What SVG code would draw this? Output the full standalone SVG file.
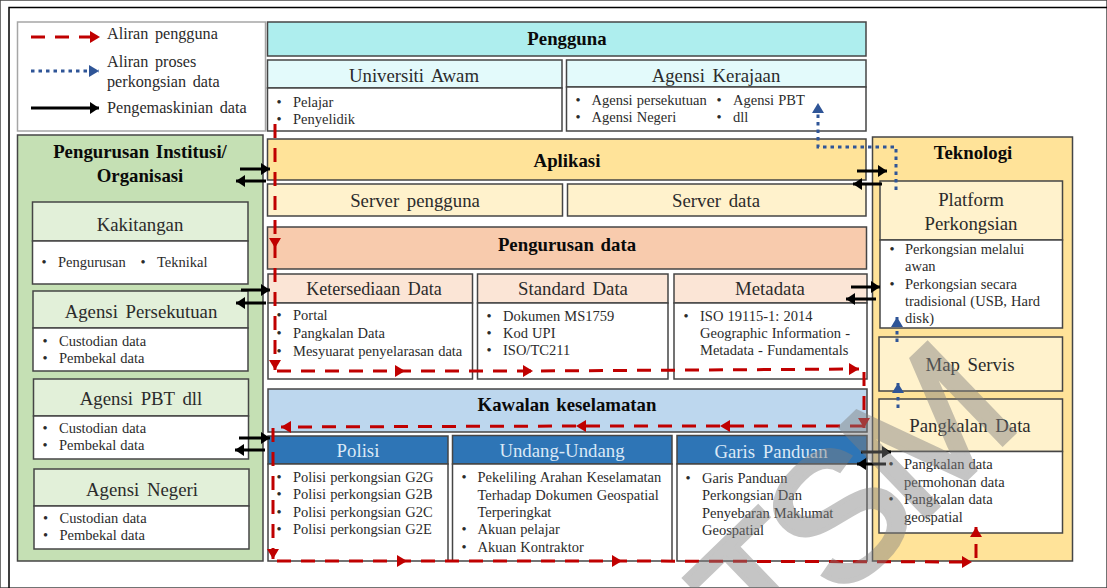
<svg xmlns="http://www.w3.org/2000/svg" width="1107" height="588" viewBox="0 0 1107 588">
<style>
text{font-family:"Liberation Serif","Times New Roman",serif;fill:#2b2b2b}
.b{font-size:14.5px;word-spacing:.5px}
.h{font-size:18.8px;text-anchor:middle;word-spacing:3px}
.w{fill:#dbe9f6}
.t{font-size:18.8px;font-weight:bold;text-anchor:middle;fill:#0a0a0a;word-spacing:2px}
.l{font-size:16.2px;word-spacing:2.500px}
rect{stroke:#454545;stroke-width:1.5}
.body{fill:#fff}
.cy{fill:#aeeeee}.cyl{fill:#e3fafb}.yl{fill:#ffe399}.yll{fill:#fff2cc}.or{fill:#f8cbad}.orl{fill:#fbe5d6}.bl{fill:#bdd7ee}.db{fill:#2e75b6}.gr{fill:#c5e0b4}.grl{fill:#e2f0d9}
.red{fill:none;stroke:#c00000;stroke-width:3;stroke-dasharray:14 10}
.rm{marker-mid:url(#rh);marker-end:url(#rh)}
.blue{fill:none;stroke:#2f5597;stroke-width:3;stroke-dasharray:3.500 4;marker-end:url(#bh)}
.blk{fill:none;stroke:#000;stroke-width:3;marker-end:url(#kh)}
</style>
<defs>
<marker id="rh" markerUnits="userSpaceOnUse" markerWidth="11" markerHeight="12" refX="10" refY="6" orient="auto"><path d="M0 0L10 6L0 12Z" fill="#c00000"/></marker>
<marker id="bh" markerUnits="userSpaceOnUse" markerWidth="11" markerHeight="12" refX="10" refY="6" orient="auto"><path d="M0 0L10 6L0 12Z" fill="#2f5597"/></marker>
<marker id="kh" markerUnits="userSpaceOnUse" markerWidth="10" markerHeight="12" refX="9" refY="6" orient="auto"><path d="M0 0L9 6L0 12Z" fill="#000"/></marker>
</defs>
<rect width="1107" height="588" fill="#fff" stroke="none"/>
<path d="M9 588V7.500H1107" fill="none" stroke="#000" stroke-width="1.500"/>

<g id="legend">
<rect x="17.500" y="22" width="248" height="109" fill="#fff" style="stroke:#a6a6a6"/>
<text class="l" x="107" y="39">Aliran pengguna</text>
<text class="l" x="107" y="67">Aliran proses</text>
<text class="l" x="107" y="87">perkongsian data</text>
<text class="l" x="107" y="113">Pengemaskinian data</text>
</g>

<g id="pengguna"><rect class="cy" x="267.500" y="22" width="598.500" height="34"/><text class="t" x="567" y="45">Pengguna</text></g>
<g id="universiti-awam"><rect class="cyl" x="267.500" y="60" width="294.500" height="28"/><rect class="body" x="267.500" y="88" width="294.500" height="43"/>
<text class="h" x="414" y="82">Universiti Awam</text>
<text class="b" x="276.500" y="107">•</text><text class="b" x="293" y="107">Pelajar</text>
<text class="b" x="276.500" y="124">•</text><text class="b" x="293" y="124">Penyelidik</text></g>
<g id="agensi-kerajaan"><rect class="cyl" x="566.500" y="60" width="299.500" height="27"/><rect class="body" x="566.500" y="87" width="299.500" height="44"/>
<text class="h" x="716" y="82">Agensi Kerajaan</text>
<text class="b" x="575.500" y="105">•</text><text class="b" x="591.500" y="105">Agensi persekutuan</text>
<text class="b" x="575.500" y="122">•</text><text class="b" x="591.500" y="122">Agensi Negeri</text>
<text class="b" x="716.500" y="105">•</text><text class="b" x="733" y="105">Agensi PBT</text>
<text class="b" x="716.500" y="122">•</text><text class="b" x="733" y="122">dll</text></g>

<g id="aplikasi"><rect class="yl" x="267.500" y="139" width="598.500" height="41"/><text class="t" x="567" y="167">Aplikasi</text></g>
<g id="server-pengguna"><rect class="yll" x="267.500" y="184" width="295" height="32"/><text class="h" x="415" y="207">Server pengguna</text></g>
<g id="server-data"><rect class="yll" x="567.500" y="184" width="298.500" height="32"/><text class="h" x="716" y="207">Server data</text></g>

<g id="pengurusan-data"><rect class="or" x="267.500" y="227" width="599" height="42"/><text class="t" x="567" y="251">Pengurusan data</text></g>
<g id="ketersediaan-data"><rect class="orl" x="268" y="274" width="204.500" height="29"/><rect class="body" x="268" y="303" width="204.500" height="76"/>
<text class="h" x="374" y="295" style="font-size:18px">Ketersediaan Data</text>
<text class="b" x="276.500" y="320">•</text><text class="b" x="293" y="320">Portal</text>
<text class="b" x="276.500" y="338">•</text><text class="b" x="293" y="338">Pangkalan Data</text>
<text class="b" x="276.500" y="356">•</text><text class="b" x="293" y="356">Mesyuarat penyelarasan data</text></g>
<g id="standard-data"><rect class="orl" x="477.500" y="274" width="190.500" height="29"/><rect class="body" x="477.500" y="303" width="190.500" height="76"/>
<text class="h" x="573" y="295">Standard Data</text>
<text class="b" x="486.500" y="321">•</text><text class="b" x="503" y="321">Dokumen MS1759</text>
<text class="b" x="486.500" y="338">•</text><text class="b" x="503" y="338">Kod UPI</text>
<text class="b" x="486.500" y="355">•</text><text class="b" x="503" y="355">ISO/TC211</text></g>
<g id="metadata"><rect class="orl" x="674" y="274" width="193" height="29"/><rect class="body" x="674" y="303" width="193" height="76"/>
<text class="h" x="770" y="295">Metadata</text>
<text class="b" x="683.500" y="321">•</text><text class="b" x="700" y="321">ISO 19115-1:  2014</text>
<text class="b" x="700" y="338">Geographic Information -</text>
<text class="b" x="700" y="355">Metadata - Fundamentals</text></g>

<g id="kawalan-keselamatan"><rect class="bl" x="268" y="389" width="599" height="43"/><text class="t" x="567" y="411">Kawalan keselamatan</text></g>
<g id="polisi"><rect class="db" x="268" y="436" width="180" height="28"/><rect class="body" x="268" y="464" width="180" height="97"/>
<text class="h w" x="358" y="457">Polisi</text>
<text class="b" x="276.500" y="482">•</text><text class="b" x="293" y="482">Polisi perkongsian G2G</text>
<text class="b" x="276.500" y="499">•</text><text class="b" x="293" y="499">Polisi perkongsian G2B</text>
<text class="b" x="276.500" y="517">•</text><text class="b" x="293" y="517">Polisi perkongsian G2C</text>
<text class="b" x="276.500" y="534">•</text><text class="b" x="293" y="534">Polisi perkongsian G2E</text></g>
<g id="undang-undang"><rect class="db" x="452.500" y="435.500" width="219.500" height="28.500"/><rect class="body" x="452.500" y="464" width="219.500" height="97"/>
<text class="h w" x="562" y="457">Undang-Undang</text>
<text class="b" x="461.500" y="482">•</text><text class="b" x="477.500" y="482">Pekeliling  Arahan Keselamatan</text>
<text class="b" x="477.500" y="500">Terhadap Dokumen Geospatial</text>
<text class="b" x="477.500" y="517">Terperingkat</text>
<text class="b" x="461.500" y="534">•</text><text class="b" x="477.500" y="534">Akuan pelajar</text>
<text class="b" x="461.500" y="552">•</text><text class="b" x="477.500" y="552">Akuan Kontraktor</text></g>
<g id="garis-panduan"><rect class="db" x="677" y="435.500" width="190" height="28.500"/><rect class="body" x="677" y="464" width="190" height="97"/>
<text class="h w" x="771" y="458">Garis Panduan</text>
<text class="b" x="685.500" y="483">•</text><text class="b" x="702" y="483">Garis Panduan</text>
<text class="b" x="702" y="500">Perkongsian Dan</text>
<text class="b" x="702" y="518">Penyebaran Maklumat</text>
<text class="b" x="702" y="535">Geospatial</text></g>

<g id="pengurusan-institusi"><rect class="gr" x="17.500" y="135" width="245.500" height="426"/>
<text class="t" x="140" y="158">Pengurusan Institusi/</text><text class="t" x="140" y="182">Organisasi</text></g>
<g id="kakitangan"><rect class="grl" x="32.500" y="202" width="215.500" height="39"/><rect class="body" x="32.500" y="241" width="215.500" height="43"/>
<text class="h" x="140" y="231">Kakitangan</text>
<text class="b" x="41.500" y="267">•</text><text class="b" x="58" y="267">Pengurusan</text><text class="b" x="140.500" y="267">•</text><text class="b" x="157" y="267">Teknikal</text></g>
<g id="agensi-persekutuan"><rect class="grl" x="33" y="291" width="215" height="37"/><rect class="body" x="33" y="328" width="215" height="43"/>
<text class="h" x="141" y="318">Agensi Persekutuan</text>
<text class="b" x="42.500" y="346">•</text><text class="b" x="59" y="346">Custodian data</text>
<text class="b" x="42.500" y="363">•</text><text class="b" x="59" y="363">Pembekal data</text></g>
<g id="agensi-pbt"><rect class="grl" x="33.500" y="379" width="215" height="37"/><rect class="body" x="33.500" y="416" width="215" height="43"/>
<text class="h" x="141" y="405">Agensi PBT dll</text>
<text class="b" x="42.500" y="433">•</text><text class="b" x="59" y="433">Custodian data</text>
<text class="b" x="42.500" y="450">•</text><text class="b" x="59" y="450">Pembekal data</text></g>
<g id="agensi-negeri"><rect class="grl" x="34" y="469" width="215" height="37"/><rect class="body" x="34" y="506" width="215" height="43"/>
<text class="h" x="142" y="496">Agensi Negeri</text>
<text class="b" x="43" y="523">•</text><text class="b" x="59.500" y="523">Custodian data</text>
<text class="b" x="43" y="540">•</text><text class="b" x="59.500" y="540">Pembekal data</text></g>

<g id="teknologi"><rect class="yl" x="872.500" y="137" width="200" height="424"/><text class="t" x="973" y="159">Teknologi</text></g>
<g id="platform-perkongsian"><rect class="yll" x="880" y="181" width="182.500" height="59"/><rect class="body" x="880" y="240" width="182.500" height="88"/>
<text class="h" x="971" y="206">Platform</text><text class="h" x="971" y="230">Perkongsian</text>
<text class="b" x="889.500" y="254">•</text><text class="b" x="905" y="254">Perkongsian melalui</text>
<text class="b" x="905" y="271">awan</text>
<text class="b" x="889.500" y="289">•</text><text class="b" x="905" y="289">Perkongsian secara</text>
<text class="b" x="905" y="306">tradisional (USB, Hard</text>
<text class="b" x="905" y="323">disk)</text></g>
<g id="map-servis"><rect class="yll" x="879" y="337" width="183.500" height="54"/><text class="h" x="970" y="371">Map Servis</text></g>
<g id="pangkalan-data"><rect class="yll" x="879" y="399" width="183.500" height="52.500"/><rect class="body" x="879" y="451.500" width="183.500" height="81.500"/>
<text class="h" x="970" y="432">Pangkalan Data</text>
<text class="b" x="888.500" y="469">•</text><text class="b" x="904" y="469">Pangkalan data</text>
<text class="b" x="904" y="487">permohonan data</text>
<text class="b" x="888.500" y="504">•</text><text class="b" x="904" y="504">Pangkalan data</text>
<text class="b" x="904" y="522">geospatial</text></g>

<g id="connectors">
<path class="red" d="M31 37H100" style="marker-end:url(#rh)"/>
<path class="blue" d="M31 71H99"/>
<path class="blk" d="M31 108H99"/>
<polyline class="red rm" points="275,124 275,248 275,370"/>
<polyline class="red rm" points="277,371 405,371 533,371 859,369"/>
<polyline class="red" points="864,372 864,428" style="marker-end:url(#rh)"/>
<polyline class="red rm" points="864,426 720,426 576,426 281,427"/>
<polyline class="red rm" points="273,428 273,559"/>
<polyline class="red rm" points="277,561 407,561 622,561 972,562"/>
<polyline class="red" points="976,558 976,527" style="marker-end:url(#rh)"/>
<polyline class="blue" points="896,190 896,147 818,147 818,103"/>
<polyline class="blue" points="897,342 897,317"/>
<polyline class="blue" points="898,408 898,383"/>
<path class="blk" d="M240 169H270"/><path class="blk" d="M266 181H236"/>
<path class="blk" d="M241 290H270"/><path class="blk" d="M266 303H236"/>
<path class="blk" d="M239 438H270"/><path class="blk" d="M265 450H235"/>
<path class="blk" d="M857 171H887"/><path class="blk" d="M882 184H853"/>
<path class="blk" d="M851 287H880"/><path class="blk" d="M876 299H846"/>
<path class="blk" d="M861 452H891"/><path class="blk" d="M886 464H857"/>
</g>

<text id="watermark" transform="translate(1015.500,431) rotate(-44)" text-anchor="end" style="font-family:'Liberation Sans',Arial,sans-serif;font-size:180px;letter-spacing:-12px;fill:#7f7f7f;stroke:#7f7f7f;stroke-width:5;opacity:.45">TSM</text>
</svg>
